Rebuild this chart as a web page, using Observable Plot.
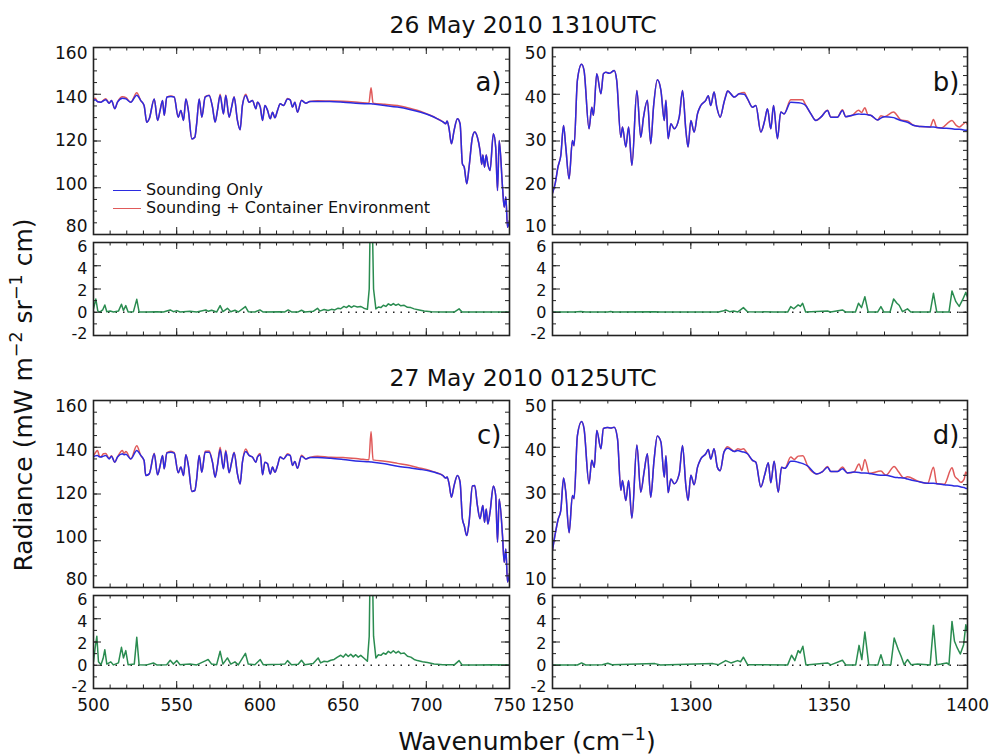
<!DOCTYPE html>
<html><head><meta charset="utf-8">
<script src="https://cdn.jsdelivr.net/npm/d3@7"></script>
<script src="https://cdn.jsdelivr.net/npm/@observablehq/plot@0.6"></script>
<style>
body{margin:0;background:#fff;}
#root{position:relative;width:989px;height:756px;overflow:hidden;font-family:"DejaVu Sans",sans-serif;color:#111;}
.abs{position:absolute;white-space:nowrap;line-height:1.05;}
</style></head><body><div id="root"></div>
<script>
// ---------- text ----------
const titles = ["26 May 2010 1310UTC", "27 May 2010 0125UTC"];
const seriesNames = ["Sounding Only", "Sounding + Container Environment"];
const panelTags = ["a)", "b)", "c)", "d)"];
const xLabelHtml = "Wavenumber (cm<sup style='font-size:0.7em'>\u22121</sup>)";
const yLabelHtml = "Radiance (mW m<sup style='font-size:0.7em'>\u22122</sup> sr<sup style='font-size:0.7em'>\u22121</sup> cm)";

// ---------- ticks ----------
const xTicksLeft = [500, 550, 600, 650, 700, 750];
const xTicksRight = [1250, 1300, 1350, 1400];
const yTicksMainLeft = [80, 100, 120, 140, 160];
const yTicksMainRight = [10, 20, 30, 40, 50];
const yTicksDiff = [-2, 0, 2, 4, 6];

// ---------- panel a (26 May, 500-750) ----------
const wnA = [500,501,502.5,504.4,506,507.4,509.4,510.8,512.8,514.4,
517.4,519.5,522.4,526,528.4,530.4,532,533.5,536.5,538.5,
540,541.5,542.5,544.1,546.5,548.5,550.9,552.5,554.1,555.5,
557,559.1,560.9,562,563.5,565.1,567.1,569.5,571.5,573.1,
574.5,576.1,578.1,579.5,581.5,583,584.5,586.5,588.1,589.5,
591.5,593.5,595.5,597.6,598.5,600.2,601.6,603,604.6,606.2,
607.6,609,610.6,612.2,614.2,616.6,618.2,619.6,621,622.6,
625,627.6,630,634.6,642,650,660,665.5,666.8,668,
675,682.7,690,696.7,702,706.7,710,711.7,712.5,713.7,
715.1,716.7,718.7,720.3,721.7,722.8,724.3,725.7,727.7,729.1,
730.7,732.3,733.3,734,735,736,737,738.3,740.3,741.7,
742.8,743.8,745.8,746.8,747.8,748.8,750];
const blueA = [137.3,137.6,136.8,136.6,137.2,137.6,136.2,137.3,133.8,136.6,
138.3,138.0,136.6,139.6,137.3,135.2,128.0,129.5,138.0,128.8,
133.0,137.3,131.0,138.8,139.0,138.8,130.2,133.1,128.8,138.0,
133.1,120.9,121.6,127.4,138.0,130.2,138.8,139.5,134.5,128.1,
133.1,139.5,131.6,139.5,130.2,134.5,138.8,128.8,124.8,135.2,
139.5,136.6,137.3,133.8,136.6,134.5,128.8,135.2,133.1,129.5,
132.3,129.9,133.1,135.9,135.2,138.0,137.6,134.5,136.6,132.3,
137.3,136.2,136.9,136.9,136.9,136.6,136.0,135.9,135.9,135.8,
135.2,134.5,133.5,132.3,131.0,129.5,128.2,127.4,128.6,125.2,
118.8,124.5,129.5,127.4,110.2,108.8,101.7,108.8,121.6,123.8,
121.6,115.9,110.0,114.0,108.8,114.0,110.0,107.4,123.1,117.4,
98.8,120.2,100.3,91.7,96.0,83.1,86.0];
const redA = [138.0,138.3,136.8,136.6,137.5,138.1,136.2,137.3,133.8,136.6,
138.9,138.5,136.6,140.6,137.3,135.2,128.0,129.5,138.0,128.8,
133.0,137.3,131.0,138.8,139.2,138.8,130.2,133.1,128.8,138.0,
133.1,120.9,121.6,127.4,138.0,130.2,139.0,139.6,134.6,128.1,
133.1,140.0,131.6,139.7,130.2,134.5,138.9,128.8,124.8,135.2,
140.0,136.6,137.3,133.8,136.6,134.7,128.8,135.2,133.1,129.5,
132.3,129.9,133.1,135.9,135.2,138.2,137.6,134.5,136.6,132.3,
137.4,136.2,136.9,137.2,137.1,137.0,136.5,136.2,142.8,136.2,
135.7,135.2,134.0,132.6,131.1,129.5,128.2,127.4,128.6,125.2,
118.8,124.5,129.5,127.4,110.2,108.8,101.7,108.8,121.6,123.8,
121.6,115.9,110.0,114.0,108.8,114.0,110.0,107.4,123.1,117.4,
98.8,120.2,100.3,91.7,96.0,83.1,86.0];
const wnDiffA = [500,501.4,502.6,504,505.5,506.8,508,510,512,515,
516.8,518,519.4,520.8,524,526,527.4,532,538,542,
546.1,548,550.1,552,558,562,567.5,569,571,574,
576.1,577.8,580.5,582.5,585,587,591.3,593,597,600,
602,612,615,617,619,623,625,627,632,634.6,
636,638.6,641,643,645,647,648.6,650.5,652,653.5,
655,656.5,658.6,660.5,662.5,664.6,665.7,666.4,667.4,668.3,
669.7,671.2,672.7,674.2,675.7,677.2,678.7,680.2,681.7,683.2,
684.7,686.7,688.7,690.7,692.7,695.7,698.7,703,710,717,
719.7,721.5,730,740,750];
const diffA = [0.3,1.14,0.1,0.03,0.2,0.63,0.05,0.1,0.02,0.1,
0.69,0.15,0.57,0.03,0.05,1.11,0.03,0.02,0.05,0.02,
0.2,0.05,0.14,0.02,0.08,0.02,0.2,0.08,0.17,0.02,
0.57,0.05,0.34,0.05,0.17,0.02,0.49,0.05,0.02,0.2,
0.02,0.05,0.03,0.2,0.03,0.03,0.17,0.02,0.08,0.34,
0.1,0.23,0.15,0.25,0.2,0.35,0.3,0.5,0.4,0.57,
0.42,0.55,0.45,0.5,0.35,0.25,2,9,9,2,
0.29,0.45,0.4,0.6,0.5,0.72,0.6,0.75,0.6,0.7,
0.55,0.6,0.42,0.4,0.29,0.2,0.11,0.05,0.03,0.03,
0.29,0.02,0.02,0.02,0.02];

// ---------- panel b (26 May, 1250-1400) ----------
const wnB = [1250,1251,1252,1253,1254,1254.8,1256,1257.2,1257.8,1259,
1260.5,1261.4,1263.2,1264.2,1264.8,1266,1267.5,1268.4,1269.3,1270.5,
1271.3,1272.3,1273.2,1274.7,1275.3,1276.5,1277.5,1278.7,1280.5,1281.9,
1282.9,1284.3,1285.5,1286.5,1287.9,1289.2,1290.4,1291,1291.8,1292.8,
1294,1295.8,1297,1298.2,1299,1300,1301.2,1302.4,1303.6,1305.4,
1306.3,1307.2,1308.4,1309.4,1310.6,1312,1312.6,1313.3,1315.7,1317.5,
1319.3,1320.5,1322.3,1323.5,1325.3,1326.7,1327.7,1328.9,1329.9,1331.3,
1332.5,1333.7,1336.1,1338.8,1340.4,1341.5,1343.4,1345.2,1347,1349.4,
1350.6,1353,1354.8,1356,1358.4,1360.6,1361.7,1362.9,1364,1365,
1367.5,1368.7,1369.9,1373.3,1374.5,1375.9,1378.3,1380.7,1383.1,1386.5,
1387.7,1388.9,1390.4,1394.4,1395.8,1397,1398.2,1399.4,1400];
const blueB = [18.8,21.0,24.5,26.9,33.3,28.7,21.9,30.1,29.0,43.0,
46.4,45.1,32.6,37.2,35.5,44.4,40.1,44.4,44.7,44.5,
44.7,45.1,43.0,30.8,33.0,28.7,33.0,24.8,40.8,30.8,
35.1,38.7,29.4,37.2,43.1,40.8,34.4,38.7,30.5,33.7,
32.6,35.1,40.8,32.3,28.7,34.4,31.9,35.8,37.6,38.7,
39.7,37.6,40.5,37.2,35.1,38.3,39.5,40.7,39.4,40.1,
40.0,39.0,37.2,37.6,31.9,34.4,36.9,32.6,37.6,30.5,
36.2,35.8,38.3,38.2,38.0,37.6,35.8,34.4,35.1,36.5,
35.1,35.1,36.5,35.2,35.5,35.8,35.7,35.7,35.6,35.5,
34.5,34.9,35.2,35.0,34.7,34.4,34.0,33.3,33.1,33.0,
33.0,32.9,32.8,32.6,32.5,32.5,32.4,32.3,32.3];
const redB = [18.8,21.0,24.5,26.9,33.3,28.7,21.9,30.1,29.0,43.0,
46.4,45.1,32.6,37.2,35.5,44.4,40.1,44.4,44.7,44.5,
44.7,45.1,43.0,30.8,33.0,28.7,33.0,24.8,40.8,30.8,
35.1,38.7,29.4,37.2,43.1,40.8,34.4,38.7,30.5,33.7,
32.6,35.1,40.8,32.3,28.7,34.4,31.9,35.8,37.6,38.7,
39.7,37.6,40.5,37.2,35.1,38.3,39.7,40.7,39.4,40.1,
40.4,39.0,37.2,37.6,31.9,34.4,36.9,32.6,37.6,30.5,
36.2,35.8,38.8,38.8,38.8,37.7,35.8,34.4,35.1,36.6,
35.1,35.1,36.7,35.2,35.5,36.6,36.1,37.1,35.6,35.5,
34.5,35.4,35.2,36.2,35.5,34.5,34.3,33.3,33.1,33.0,
34.6,32.9,32.8,34.4,33.4,33.0,33.5,34.0,33.5];
const wnDiffB = [1250,1258,1260.2,1262,1270,1271,1272,1287,1289,1310,
1311.5,1312.6,1314,1315.5,1317,1319,1320.5,1330,1335,1336.1,
1337.2,1338.8,1339.6,1340.4,1341.5,1349.4,1350.5,1354.8,1356,1359.5,
1360.6,1361.7,1362.9,1364.1,1367.5,1368.7,1369.8,1372,1373.3,1374.5,
1375.3,1376.5,1378.3,1379.5,1386.5,1387.7,1388.9,1393.3,1394.4,1395.8,
1397,1398.2,1399.4,1400];
const diffB = [0.02,0.02,0.06,0.02,0.03,0.06,0.02,0.04,0.02,0.02,
0.1,0.2,0.05,0.1,0.03,0.4,0.05,0.02,0.02,0.49,
0.3,0.63,0.5,0.77,0.02,0.1,0.02,0.2,0.02,0.02,
0.77,0.4,1.34,0.02,0.02,0.49,0.02,0.02,1.14,0.77,
0.6,0.05,0.29,0.02,0.02,1.63,0.02,0.02,1.83,0.91,
0.5,1.06,1.71,1.3];

// ---------- panel c (27 May, 500-750) ----------
const wnC = [500,501,502.4,503.5,504.4,506,507.4,509.4,510.8,512.8,
514.4,517.4,518.3,519.5,522.4,526,528.4,530.4,531.4,533.5,
536.5,538.5,540,541.5,542.5,544.1,546.5,548.5,550.9,552.5,
554.1,555.5,557,559.1,560.9,562,563.5,565.1,567.1,569.5,
571.5,573.1,574.5,576.1,578.1,579.5,581.5,583,584.5,586.5,
588.1,589.5,591.5,593.5,595.5,597.6,598.5,600.2,601.6,603,
604.6,606.2,607.6,609,610.6,612.2,614.2,616.6,618.2,619.6,
621,622.6,625,627.6,630,634.6,642.6,650,660,665.5,
666.8,668,675,682.7,690,696.7,702,706.7,710,711.7,
712.5,713.7,715.1,716.7,718.7,720.3,721.7,722.8,724.3,725.7,
727.7,729.1,730.7,732.3,733.3,734,735,736,737,738.3,
740.3,741.7,742.8,743.8,745.8,746.8,747.8,748.8,750];
const blueC = [135.8,136.3,136.5,135.9,135.8,136.2,136.5,135.0,136.2,133.6,
135.8,137.2,136.8,137.0,135.0,138.6,136.5,134.3,127.9,128.6,
137.2,128.2,132.0,136.5,130.8,137.6,137.9,137.5,129.1,131.5,
127.9,136.8,132.2,121.1,121.5,126.5,136.5,129.3,137.9,137.9,
133.6,127.2,132.2,138.9,130.8,138.2,129.1,133.6,137.6,128.6,
124.3,133.6,138.2,136.5,135.8,133.6,135.8,136.8,128.2,133.6,
132.9,128.6,131.5,129.3,132.2,135.8,135.0,136.8,136.5,132.2,
133.9,131.0,136.2,135.0,135.6,135.6,135.3,134.8,134.0,133.8,
133.7,133.6,132.9,131.9,131.2,130.5,129.8,128.9,127.9,126.8,
127.3,124.3,118.6,123.6,127.9,125.1,109.4,106.5,102.2,107.9,
123.4,123.6,115.1,109.4,113.0,115.1,107.9,113.6,107.2,112.2,
123.4,119.4,99.4,117.9,102.2,90.8,96.5,82.3,86.0];
const redC = [136.3,137.5,138.6,136.3,135.9,137.2,137.3,135.2,136.4,133.6,
135.8,138.6,137.4,138.2,135.0,140.6,136.5,134.3,127.9,128.6,
137.4,128.2,132.0,136.5,130.8,137.7,138.3,137.7,129.1,131.5,
127.9,136.8,132.2,121.1,121.5,126.5,136.5,129.3,138.3,138.4,
133.6,127.2,132.2,140.0,130.8,138.7,129.1,133.6,137.9,128.6,
124.3,133.6,139.2,136.5,135.8,133.6,135.8,137.3,128.2,133.6,
132.9,128.6,131.5,129.3,132.2,135.8,135.0,137.2,136.5,132.2,
133.9,131.0,136.6,135.0,135.6,136.2,135.7,135.6,135.0,134.6,
146.7,134.6,134.0,133.1,132.2,131.0,130.1,129.0,127.9,126.8,
127.3,124.3,118.6,123.6,127.9,125.1,109.4,106.5,102.2,107.9,
123.4,123.6,115.1,109.4,113.0,115.1,107.9,113.6,107.2,112.2,
123.4,119.4,99.4,117.9,102.2,90.8,96.5,82.3,86.0];
const wnDiffC = [500,501,502,503,504.5,505.8,506.8,508,510.4,512,
515,516.8,518,519.4,520.8,524.5,526,527.4,532,536,
538,544,546.1,548,550.1,552,558,562,567.5,568.9,
571,574,576.1,577.8,580.5,582.5,585,587,591.3,593,
597,600.2,602,612,615,616.6,619,623,625,627,
632,635,636.5,638.6,640.6,642.6,644.6,646.6,648.6,650.1,
651.6,653.1,654.6,656.1,657.6,659.1,660.6,662.6,664.6,665.7,
666.4,667.4,668.3,669.7,671.2,672.7,674.2,675.7,677.2,678.7,
680.2,681.7,683.2,684.7,686.7,688.7,690.7,692.7,694.7,697.7,
700.7,704.7,710,717,719.7,721.5,730,740,750];
const diffC = [0.3,1.5,2.49,0.3,0.05,0.6,1.34,0.1,0.29,0.03,
0.2,1.54,0.63,1.26,0.05,0.1,2.4,0.05,0.03,0.2,
0.03,0.05,0.43,0.1,0.4,0.05,0.1,0.03,0.4,0.49,
0.1,0.05,1.2,0.1,0.63,0.1,0.29,0.03,1.03,0.1,
0.05,0.49,0.05,0.08,0.1,0.4,0.05,0.08,0.43,0.05,
0.15,0.63,0.2,0.34,0.3,0.43,0.5,0.7,0.86,0.7,
0.97,0.75,0.95,0.72,0.91,0.7,0.85,0.6,0.34,2.5,
10,10,2.5,0.63,0.9,0.85,1.05,0.95,1.2,1.05,
1.25,1.05,1.2,1.0,1.05,0.77,0.7,0.5,0.4,0.3,
0.23,0.11,0.05,0.05,0.4,0.03,0.03,0.05,0.02];

// ---------- panel d (27 May, 1250-1400) ----------
const wnD = [1250,1251,1252,1253,1254,1254.8,1256,1257.2,1257.8,1259,
1260.5,1261.4,1263.2,1264.2,1265.1,1266,1267.5,1268.4,1269.9,1271.1,
1272.3,1273.5,1274.7,1275.3,1276.5,1277.5,1278.7,1280.5,1281.9,1283.1,
1284.3,1285.5,1286.7,1287.9,1289.2,1290.4,1291,1291.8,1292.8,1294,
1295.8,1297,1298.2,1299,1300,1301.2,1302.4,1303.6,1305.4,1306.3,
1307.2,1308.4,1309.6,1310.6,1312,1313.3,1315.7,1317,1318.1,1319,
1320.5,1322.3,1323.5,1325.3,1326.7,1328,1328.9,1330.1,1331.6,1332.8,
1334,1336.1,1337.4,1338.8,1340.5,1342.2,1345.5,1347.6,1349.4,1350.6,
1353,1354.8,1356.6,1359,1360.8,1361.8,1362.9,1364.5,1368.7,1370.5,
1373.5,1375,1377.1,1378.3,1381.9,1385.6,1387.7,1388.9,1391.6,1394.4,
1395.4,1396.4,1397.6,1398.8,1399.4,1400];
const blueD = [18.0,21.5,24.5,26.5,33.4,30.4,21.7,29.7,29.0,42.5,
45.5,44.0,32.2,37.2,35.7,43.6,39.7,44.0,44.2,44.1,
44.3,41.8,30.8,32.9,28.6,32.9,24.8,40.5,30.4,34.7,
38.6,29.3,37.2,42.4,41.1,33.6,38.2,30.3,33.2,32.2,
34.3,40.4,31.8,28.6,34.0,32.0,35.7,37.5,38.6,39.5,
37.5,39.7,35.7,35.0,39.0,39.8,39.1,39.3,39.1,39.0,
38.6,37.2,36.8,31.5,34.1,36.7,32.4,37.0,30.4,35.7,
35.5,37.0,37.0,36.8,36.5,36.0,34.3,34.8,35.7,34.8,
34.8,35.4,34.5,34.7,34.6,34.5,34.5,34.4,34.0,34.0,
33.6,33.5,33.4,33.2,32.7,32.3,32.3,32.2,32.0,31.8,
31.7,31.7,31.5,31.4,31.2,31.2];
const redD = [18.0,21.5,24.5,26.5,33.4,30.4,21.7,29.7,29.0,42.5,
45.5,44.0,32.2,37.2,35.7,43.6,39.7,44.0,44.2,44.1,
44.3,41.8,30.8,32.9,28.6,32.9,24.8,40.5,30.4,34.7,
38.6,29.3,37.2,42.4,41.1,33.6,38.2,30.3,33.2,32.2,
34.3,40.4,31.8,28.6,34.0,32.0,35.7,37.5,38.6,39.5,
37.5,39.7,35.7,35.0,39.0,40.1,39.1,39.7,39.5,39.7,
38.6,37.2,36.8,31.5,34.1,36.7,32.4,37.0,30.4,35.7,
35.5,37.9,37.4,38.1,38.2,36.0,34.3,34.8,35.9,34.8,
34.8,35.8,34.5,34.7,36.4,35.0,37.4,34.4,34.9,34.0,
35.9,34.8,33.4,33.7,32.8,32.3,35.7,32.2,32.1,35.6,
33.8,33.2,32.5,33.2,34.7,34.0];
const wnDiffD = [1250,1259,1260.5,1262,1268,1270,1271.5,1287,1289,1308,
1310,1312.6,1314.5,1316.9,1318,1319,1320.5,1335,1336.4,1337.6,
1338.8,1339.5,1340.5,1341.6,1349.4,1350.6,1354.8,1356,1359.6,1360.8,
1361.8,1362.9,1364.3,1367.6,1368.7,1369.8,1372.3,1373.5,1375,1376,
1377.1,1378.3,1379.6,1382,1386.5,1387.7,1388.9,1390.5,1392.5,1393.3,
1394.4,1395.3,1396.3,1397.4,1398.6,1399.4,1400];
const diffD = [0.02,0.02,0.2,0.02,0.05,0.17,0.05,0.14,0.03,0.14,
0.05,0.4,0.2,0.4,0.3,0.69,0.05,0.03,0.86,0.4,
1.26,1.06,1.63,0.03,0.2,0.03,0.43,0.03,0.03,1.71,
0.49,2.86,0.05,0.03,0.91,0.03,0.05,2.34,1.34,0.77,
0.05,0.49,0.05,0.1,0.03,3.43,0.05,0.1,0.2,0.05,
3.77,2.06,1.49,0.97,1.77,3.49,2.8];

// ---------- styling ----------
const BLUE = "#2b2be0", RED = "#e05a5a", GREEN = "#2a8c50", INK = "#222";
const FONT = "DejaVu Sans, sans-serif";
const root = document.getElementById("root");

function pts(xs, ys) { return xs.map((x, i) => ({x, y: ys[i]})); }

function panel(o) {
  const {left, top, ml, mr, mt, mb, fw, fh, xd, yd, xMaj, xStep, yMaj, yStep, xLabels, series, zero, tag, yDys, yFont, curve} = o;
  const xMin = d3.range(xd[0], xd[1] + 1e-9, xStep);
  const yMin = d3.range(yd[0], yd[1] + 1e-9, yStep);
  const marks = [];
  if (zero) marks.push(Plot.ruleY([0], {stroke: INK, strokeWidth: 1.4, strokeDasharray: "1.5,6"}));
  for (const s of series) marks.push(Plot.line(s.data, {x: "x", y: "y", stroke: s.color, strokeWidth: 1.5, curve: curve || "linear", clip: true}));
  const xs = 3.5, xl = 7, ys = 4, yl = 8;
  marks.push(Plot.ruleX(xMin, {stroke: INK, insetTop: fh - xs}));
  marks.push(Plot.ruleX(xMin, {stroke: INK, insetBottom: fh - xs}));
  marks.push(Plot.ruleX(xMaj, {stroke: INK, insetTop: fh - xl}));
  marks.push(Plot.ruleX(xMaj, {stroke: INK, insetBottom: fh - xl}));
  marks.push(Plot.ruleY(yMin, {stroke: INK, insetRight: fw - ys}));
  marks.push(Plot.ruleY(yMin, {stroke: INK, insetLeft: fw - ys}));
  marks.push(Plot.ruleY(yMaj, {stroke: INK, insetRight: fw - yl}));
  marks.push(Plot.ruleY(yMaj, {stroke: INK, insetLeft: fw - yl}));
  marks.push(Plot.frame({stroke: INK, strokeWidth: 1.6}));
  const fmt = d => String(d);
  if (xLabels) marks.push(Plot.axisX({ticks: xMaj, tickSize: 0, tickPadding: 10, tickFormat: fmt, fontSize: 17, label: null}));
  yMaj.forEach((t, i) => marks.push(Plot.axisY({ticks: [t], dy: yDys[i], tickSize: 0, tickPadding: 6, tickFormat: fmt, fontSize: yFont, label: null})));
  if (tag) marks.push(Plot.text([tag], {text: d => d, frameAnchor: "top-right", dx: -8, dy: 25, fontSize: 26, textAnchor: "end"}));
  const svg = Plot.plot({
    width: ml + fw + mr, height: mt + fh + mb,
    marginLeft: ml, marginRight: mr, marginTop: mt, marginBottom: mb,
    x: xLabels ? {domain: xd} : {domain: xd, axis: null},
    y: {domain: yd},
    style: {background: "transparent", overflow: "visible", fontFamily: FONT, color: "#111"},
    marks
  });
  const wrap = document.createElement("div");
  wrap.className = "abs";
  wrap.style.left = left + "px";
  wrap.style.top = top + "px";
  wrap.appendChild(svg);
  root.appendChild(wrap);
}

const L = {left: 40, ml: 53, mr: 11, fw: 416, xd: [500, 750], xMaj: xTicksLeft, xStep: 10};
const R = {left: 515, ml: 37, mr: 12, fw: 415, xd: [1250, 1400], xMaj: xTicksRight, xStep: 10};
const MAIN = {mt: 7, mb: 4, fh: 187, yDys: [-8, -3, 0, 3, 6], yFont: 17, curve: "monotone-x"};
const DIFF = {mt: 4, fh: 93, yd: [-2, 6], yMaj: yTicksDiff, yStep: 1, zero: true, yDys: [-2, 1, 2, 3, 4], yFont: 16};

// a
panel({...L, ...MAIN, top: 40, yd: [80, 160], yMaj: yTicksMainLeft, yStep: 5, tag: panelTags[0],
  series: [{data: pts(wnA, redA), color: RED}, {data: pts(wnA, blueA), color: BLUE}]});
panel({...L, ...DIFF, top: 238, mb: 4, series: [{data: pts(wnDiffA, diffA), color: GREEN}]});
// b
panel({...R, ...MAIN, top: 40, yd: [10, 50], yMaj: yTicksMainRight, yStep: 2, tag: panelTags[1],
  series: [{data: pts(wnB, redB), color: RED}, {data: pts(wnB, blueB), color: BLUE}]});
panel({...R, ...DIFF, top: 238, mb: 4, series: [{data: pts(wnDiffB, diffB), color: GREEN}]});
// c
panel({...L, ...MAIN, top: 393, yd: [80, 160], yMaj: yTicksMainLeft, yStep: 5, tag: panelTags[2],
  series: [{data: pts(wnC, redC), color: RED}, {data: pts(wnC, blueC), color: BLUE}]});
panel({...L, ...DIFF, top: 591, mb: 30, xLabels: true, series: [{data: pts(wnDiffC, diffC), color: GREEN}]});
// d
panel({...R, ...MAIN, top: 393, yd: [10, 50], yMaj: yTicksMainRight, yStep: 2, tag: panelTags[3],
  series: [{data: pts(wnD, redD), color: RED}, {data: pts(wnD, blueD), color: BLUE}]});
panel({...R, ...DIFF, top: 591, mb: 30, xLabels: true, series: [{data: pts(wnDiffD, diffD), color: GREEN}]});

// ---------- text overlays ----------
function addText(html, css) {
  const d = document.createElement("div");
  d.className = "abs";
  d.innerHTML = html;
  Object.assign(d.style, css);
  root.appendChild(d);
  return d;
}
addText(titles[0], {left: "523px", top: "25px", transform: "translate(-50%,-50%)", fontSize: "23.5px"});
addText(titles[1], {left: "523px", top: "378px", transform: "translate(-50%,-50%)", fontSize: "23.5px"});
addText(xLabelHtml, {left: "527px", top: "740px", transform: "translate(-50%,-50%)", fontSize: "25px"});
addText(yLabelHtml, {left: "22px", top: "395px", transform: "translate(-50%,-50%) rotate(-90deg)", fontSize: "25px"});

// legend
const legendColors = [BLUE, RED];
seriesNames.forEach((name, i) => {
  const row = addText("", {left: "113px", top: (181 + i * 18) + "px", fontSize: "16px", display: "flex", alignItems: "center", height: "18px"});
  const sw = document.createElement("span");
  Object.assign(sw.style, {display: "inline-block", width: "28px", height: "0", borderTop: "1.5px solid " + legendColors[i], marginRight: "5px"});
  const tx = document.createElement("span");
  tx.textContent = name;
  row.appendChild(sw); row.appendChild(tx);
});
</script></body></html>
